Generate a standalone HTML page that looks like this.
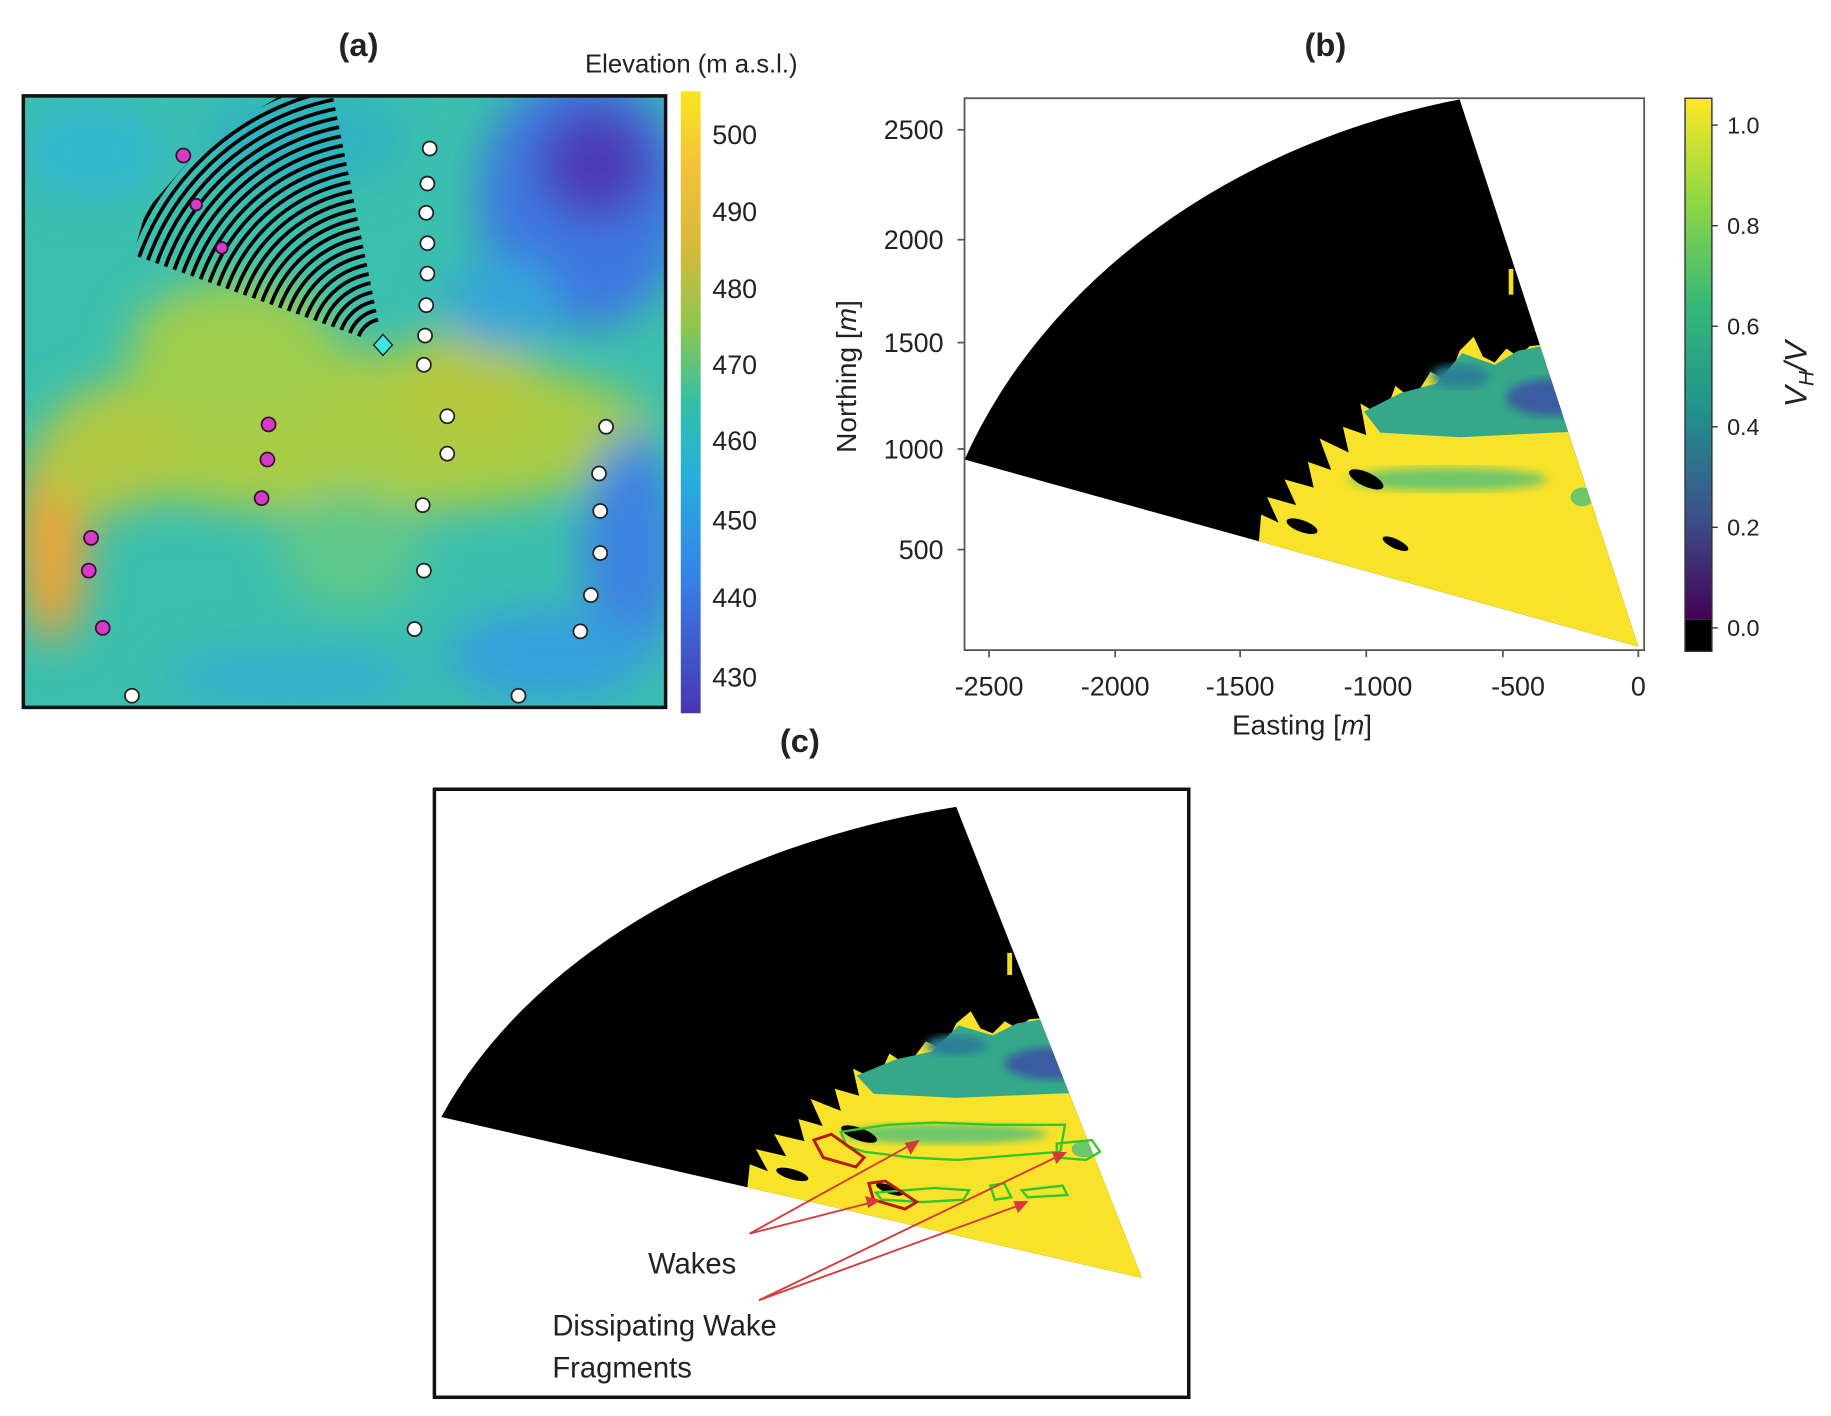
<!DOCTYPE html>
<html><head><meta charset="utf-8"><style>
html,body{margin:0;padding:0;background:#fff;}
svg{display:block;}
text{font-family:"Liberation Sans",sans-serif;fill:#222;}
</style></head><body>
<svg width="1831" height="1416" viewBox="0 0 1568 1211" preserveAspectRatio="none" xmlns="http://www.w3.org/2000/svg">
<defs>
<filter id="blur" x="-20%" y="-20%" width="140%" height="140%"><feGaussianBlur stdDeviation="18"/></filter>
<filter id="blur2"><feGaussianBlur stdDeviation="4"/></filter>
<clipPath id="frameA"><rect x="20" y="82" width="550" height="523"/></clipPath>
<clipPath id="hatch"><polygon points="328,295 114,218 125,180 160,140 210,100 240,82 285,82"/></clipPath>
<clipPath id="wedgeClip"><path d="M1403,553 L826,393 A600,490 0 0 1 1250,85 Z"/></clipPath>
<linearGradient id="parula" x1="0" y1="0" x2="0" y2="1">
<stop offset="0" stop-color="#f7e71e"/><stop offset="0.12" stop-color="#f3c23a"/><stop offset="0.25" stop-color="#d8b93a"/>
<stop offset="0.38" stop-color="#8cc650"/><stop offset="0.5" stop-color="#35bfa6"/><stop offset="0.62" stop-color="#27aedb"/>
<stop offset="0.78" stop-color="#3583e8"/><stop offset="1" stop-color="#4a35b0"/></linearGradient>
<linearGradient id="viridis" x1="0" y1="0" x2="0" y2="1">
<stop offset="0" stop-color="#fde725"/><stop offset="0.2" stop-color="#8fd744"/><stop offset="0.4" stop-color="#35b779"/>
<stop offset="0.6" stop-color="#21918c"/><stop offset="0.8" stop-color="#3b528b"/><stop offset="1" stop-color="#440154"/></linearGradient>
<g id="wedge">
<path d="M1403,553 L826,393 A600,490 0 0 1 1250,85 Z" fill="#000"/>
<g clip-path="url(#wedgeClip)">
<path d="M1077,475 L1080,440 L1095,447 L1085,425 L1110,432 L1100,410 L1125,417 L1120,395 L1140,402 L1130,375 L1155,387 L1150,365 L1170,372 L1165,345 L1185,357 L1195,330 L1210,342 L1225,318 L1240,326 L1250,300 L1262,288 L1270,305 L1280,310 L1290,298 L1300,305 L1310,296 L1340,293 L1450,290 L1450,600 L1000,600 Z" fill="#f9e22a"/>
<path d="M1168,352 L1200,336 L1230,328 L1252,302 L1280,312 L1300,300 L1340,292 L1450,290 L1450,366 L1330,370 L1250,374 L1182,370 Z" fill="#35a88a"/>
<ellipse cx="1330" cy="340" rx="40" ry="16" fill="#3a5ca0" filter="url(#blur2)"/>
<ellipse cx="1250" cy="322" rx="25" ry="10" fill="#2c7f95" filter="url(#blur2)"/>
<ellipse cx="1240" cy="410" rx="85" ry="10" fill="#6ec66a" filter="url(#blur2)"/>
<ellipse cx="1355" cy="425" rx="10" ry="8" fill="#6ec66a"/>
<ellipse cx="1170" cy="410" rx="16" ry="6" fill="#000" transform="rotate(25 1170 410)"/>
<ellipse cx="1195" cy="465" rx="12" ry="4" fill="#000" transform="rotate(25 1195 465)"/>
<ellipse cx="1115" cy="450" rx="14" ry="5" fill="#000" transform="rotate(20 1115 450)"/>
<rect x="1292" y="230" width="4" height="22" fill="#f0e020"/>
</g>
</g>
</defs>

<!-- Panel (a) -->
<text x="307" y="48" font-size="28" font-weight="bold" text-anchor="middle">(a)</text>
<text x="592" y="62" font-size="22" text-anchor="middle">Elevation (m a.s.l.)</text>
<g clip-path="url(#frameA)">
<rect x="20" y="82" width="550" height="523" fill="#3cbfae"/>
<g filter="url(#blur)">
<ellipse cx="300" cy="370" rx="260" ry="70" fill="#a9cc45"/>
<ellipse cx="200" cy="300" rx="90" ry="60" fill="#9fcd4e"/>
<ellipse cx="400" cy="330" rx="60" ry="50" fill="#b5c93e"/>
<ellipse cx="45" cy="460" rx="30" ry="90" fill="#eba537"/>
<ellipse cx="90" cy="390" rx="60" ry="50" fill="#b2c843"/>
<ellipse cx="500" cy="170" rx="90" ry="110" fill="#3d78e0"/>
<ellipse cx="510" cy="140" rx="50" ry="50" fill="#4b3cb8"/>
<ellipse cx="430" cy="260" rx="50" ry="40" fill="#35a6d8"/>
<ellipse cx="540" cy="470" rx="40" ry="100" fill="#3d82e2"/>
<ellipse cx="470" cy="560" rx="90" ry="40" fill="#36a0dc"/>
<ellipse cx="250" cy="580" rx="110" ry="25" fill="#36aed0"/>
<ellipse cx="80" cy="130" rx="60" ry="40" fill="#33b7cf"/>
<ellipse cx="260" cy="120" rx="90" ry="40" fill="#2fb3c0"/>
<ellipse cx="300" cy="470" rx="60" ry="50" fill="#5ec78a"/>
</g>
<g clip-path="url(#hatch)" fill="none" stroke="#000" stroke-width="3.2">
<circle cx="328" cy="295" r="22"/><circle cx="328" cy="295" r="30"/><circle cx="328" cy="295" r="38"/><circle cx="328" cy="295" r="46"/>
<circle cx="328" cy="295" r="54"/><circle cx="328" cy="295" r="62"/><circle cx="328" cy="295" r="70"/><circle cx="328" cy="295" r="78"/>
<circle cx="328" cy="295" r="86"/><circle cx="328" cy="295" r="94"/><circle cx="328" cy="295" r="102"/><circle cx="328" cy="295" r="110"/>
<circle cx="328" cy="295" r="118"/><circle cx="328" cy="295" r="126"/><circle cx="328" cy="295" r="134"/><circle cx="328" cy="295" r="142"/>
<circle cx="328" cy="295" r="150"/><circle cx="328" cy="295" r="158"/><circle cx="328" cy="295" r="166"/><circle cx="328" cy="295" r="174"/>
<circle cx="328" cy="295" r="182"/><circle cx="328" cy="295" r="190"/><circle cx="328" cy="295" r="198"/><circle cx="328" cy="295" r="206"/>
<circle cx="328" cy="295" r="214"/><circle cx="328" cy="295" r="222"/><circle cx="328" cy="295" r="230"/><circle cx="328" cy="295" r="238"/>
</g>
</g>
<rect x="20" y="82" width="550" height="523" fill="none" stroke="#111" stroke-width="3"/>
<polygon points="328,286 336,295 328,304 320,295" fill="#3ce6e0" stroke="#222" stroke-width="1.2"/>
<g fill="#fff" stroke="#222" stroke-width="1.5">
<circle cx="368" cy="127" r="6"/><circle cx="366" cy="157" r="6"/><circle cx="365" cy="182" r="6"/><circle cx="366" cy="208" r="6"/>
<circle cx="366" cy="234" r="6"/><circle cx="365" cy="261" r="6"/><circle cx="364" cy="287" r="6"/><circle cx="363" cy="312" r="6"/>
<circle cx="383" cy="356" r="6"/><circle cx="383" cy="388" r="6"/><circle cx="362" cy="432" r="6"/><circle cx="363" cy="488" r="6"/>
<circle cx="355" cy="538" r="6"/><circle cx="519" cy="365" r="6"/><circle cx="513" cy="405" r="6"/><circle cx="514" cy="437" r="6"/>
<circle cx="514" cy="473" r="6"/><circle cx="506" cy="509" r="6"/><circle cx="497" cy="540" r="6"/><circle cx="113" cy="595" r="6"/><circle cx="444" cy="595" r="6"/>
</g>
<g fill="#d63bc8" stroke="#3a1030" stroke-width="1.5">
<circle cx="157" cy="133" r="6"/><circle cx="168" cy="175" r="5"/><circle cx="190" cy="212" r="5"/><circle cx="230" cy="363" r="6"/>
<circle cx="229" cy="393" r="6"/><circle cx="224" cy="426" r="6"/><circle cx="78" cy="460" r="6"/><circle cx="76" cy="488" r="6"/><circle cx="88" cy="537" r="6"/>
</g>
<rect x="583" y="78" width="17" height="532" fill="url(#parula)"/>
<g font-size="23">
<text x="610" y="123">500</text><text x="610" y="189">490</text><text x="610" y="255">480</text><text x="610" y="320">470</text>
<text x="610" y="385">460</text><text x="610" y="453">450</text><text x="610" y="519">440</text><text x="610" y="587">430</text>
</g>

<!-- Panel (b) -->
<text x="1135" y="48" font-size="28" font-weight="bold" text-anchor="middle">(b)</text>
<use href="#wedge"/>
<rect x="826" y="84" width="582" height="472" fill="none" stroke="#555" stroke-width="1.5"/>
<g stroke="#555" stroke-width="1.5">
<line x1="847" y1="556" x2="847" y2="562"/><line x1="955" y1="556" x2="955" y2="562"/><line x1="1062" y1="556" x2="1062" y2="562"/>
<line x1="1170" y1="556" x2="1170" y2="562"/><line x1="1287" y1="556" x2="1287" y2="562"/><line x1="1403" y1="556" x2="1403" y2="562"/>
<line x1="820" y1="111" x2="826" y2="111"/><line x1="820" y1="205" x2="826" y2="205"/><line x1="820" y1="293" x2="826" y2="293"/>
<line x1="820" y1="384" x2="826" y2="384"/><line x1="820" y1="470" x2="826" y2="470"/>
</g>
<g font-size="23" text-anchor="middle">
<text x="847" y="595">-2500</text><text x="955" y="595">-2000</text><text x="1062" y="595">-1500</text>
<text x="1180" y="595">-1000</text><text x="1300" y="595">-500</text><text x="1403" y="595">0</text>
</g>
<g font-size="23" text-anchor="end">
<text x="808" y="119">2500</text><text x="808" y="213">2000</text><text x="808" y="301">1500</text>
<text x="808" y="392">1000</text><text x="808" y="478">500</text>
</g>
<text x="1115" y="628" font-size="24" text-anchor="middle">Easting [<tspan font-style="italic">m</tspan>]</text>
<text transform="translate(733,322) rotate(-90)" font-size="24" text-anchor="middle">Northing [<tspan font-style="italic">m</tspan>]</text>
<rect x="1443" y="84" width="23" height="446" fill="url(#viridis)"/>
<rect x="1443" y="530" width="23" height="27" fill="#000"/>
<rect x="1443" y="84" width="23" height="473" fill="none" stroke="#333" stroke-width="1.2"/>
<g stroke="#333" stroke-width="1.2">
<line x1="1466" y1="107" x2="1471" y2="107"/><line x1="1466" y1="193" x2="1471" y2="193"/><line x1="1466" y1="279" x2="1471" y2="279"/>
<line x1="1466" y1="365" x2="1471" y2="365"/><line x1="1466" y1="451" x2="1471" y2="451"/><line x1="1466" y1="537" x2="1471" y2="537"/>
</g>
<g font-size="20">
<text x="1479" y="114">1.0</text><text x="1479" y="200">0.8</text><text x="1479" y="286">0.6</text>
<text x="1479" y="372">0.4</text><text x="1479" y="458">0.2</text><text x="1479" y="544">0.0</text>
</g>
<text transform="translate(1547,320) rotate(-90)" font-size="27" text-anchor="middle" font-style="italic">V<tspan font-size="18" dy="6">H</tspan><tspan dy="-6">/V</tspan></text>

<!-- Panel (c) -->
<text x="685" y="643" font-size="28" font-weight="bold" text-anchor="middle">(c)</text>
<rect x="372" y="675" width="646" height="520" fill="none" stroke="#111" stroke-width="3"/>
<use href="#wedge" transform="translate(978,1093) scale(1.04,0.861) translate(-1403,-553)"/>
<g fill="none" stroke="#2ec82e" stroke-width="2">
<path d="M720,968 L760,962 L800,960 L850,962 L912,962 L908,985 L870,988 L820,992 L780,990 L740,985 L725,980 Z"/>
<path d="M905,978 L935,975 L942,985 L930,992 L905,990 Z"/>
<path d="M750,1020 L800,1016 L830,1018 L825,1026 L790,1028 L755,1026 Z"/>
<path d="M848,1014 L860,1012 L866,1024 L852,1026 Z"/>
<path d="M875,1018 L910,1014 L914,1022 L880,1024 Z"/>
</g>
<g fill="none" stroke="#b31a10" stroke-width="2.5">
<path d="M697,975 L712,970 L740,990 L733,998 L705,990 Z"/>
<path d="M744,1012 L758,1010 L785,1028 L775,1034 L748,1026 Z"/>
</g>
<g stroke="#d43a3a" stroke-width="1.6" fill="#d43a3a">
<line x1="642" y1="1055" x2="782" y2="978"/><polygon points="786,976 776,978 780,986"/>
<line x1="642" y1="1055" x2="748" y2="1028"/><polygon points="752,1027 742,1024 744,1032"/>
<line x1="650" y1="1112" x2="908" y2="988"/><polygon points="912,986 902,986 905,994"/>
<line x1="650" y1="1112" x2="875" y2="1030"/><polygon points="879,1028 869,1028 872,1036"/>
</g>
<g font-size="25">
<text x="555" y="1089">Wakes</text>
<text x="473" y="1142">Dissipating Wake</text>
<text x="473" y="1178">Fragments</text>
</g>
</svg>
</body></html>
